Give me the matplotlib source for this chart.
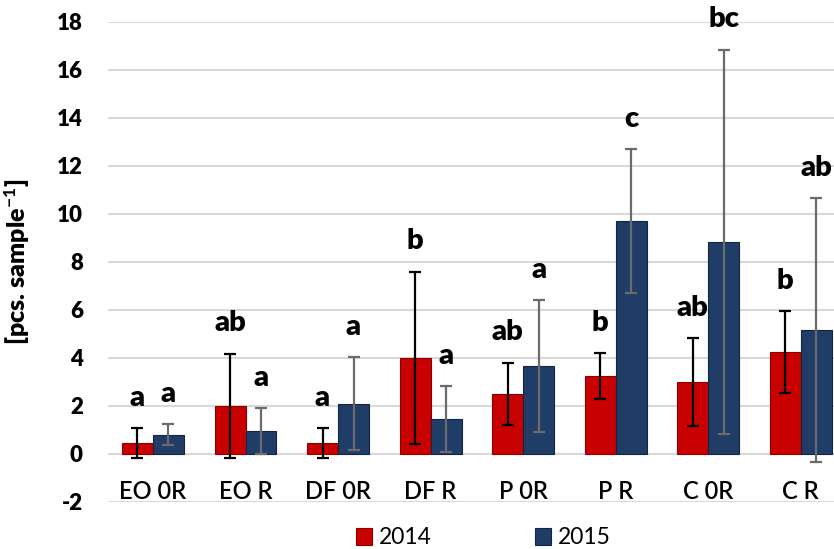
import matplotlib
matplotlib.use('Agg')
import matplotlib.pyplot as plt
import numpy as np

plt.rcParams['font.family'] = ['Lato', 'DejaVu Sans']
plt.rcParams['mathtext.fontset'] = 'custom'
plt.rcParams['mathtext.rm'] = 'Lato:bold'
plt.rcParams['mathtext.default'] = 'rm'
plt.rcParams['axes.unicode_minus'] = False

categories = ['EO 0R', 'EO R', 'DF 0R', 'DF R', 'P 0R', 'P R', 'C 0R', 'C R']
years = ['2014', '2015']

mean_2014 = [0.45, 2.0, 0.45, 4.0, 2.5, 3.25, 3.0, 4.25]
sd_2014 = [0.62, 2.17, 0.62, 3.6, 1.3, 0.95, 1.83, 1.7]
mean_2015 = [0.8, 0.95, 2.1, 1.45, 3.65, 9.7, 8.85, 5.15]
sd_2015 = [0.43, 0.95, 1.93, 1.38, 2.75, 3.0, 8.0, 5.5]

letters_2014 = ['a', 'ab', 'a', 'b', 'ab', 'b', 'ab', 'b']
letters_2015 = ['a', 'a', 'a', 'a', 'a', 'c', 'bc', 'ab']

red = '#c80000'
blue = '#1f3d66'

fig = plt.figure(figsize=(8.34, 5.49), dpi=100)
ax = fig.add_axes([108 / 834, 47 / 549, 726 / 834, 480 / 549])

x = np.arange(len(categories))
w = 0.335

ax.bar(x - w / 2, mean_2014, w, color=red, edgecolor='#8a0000', linewidth=0.8,
       label=years[0], zorder=3)
ax.bar(x + w / 2, mean_2015, w, color=blue, edgecolor='#13263f', linewidth=0.8,
       label=years[1], zorder=3)

ax.errorbar(x - w / 2, mean_2014, yerr=sd_2014, fmt='none', ecolor='black',
            elinewidth=1.6, capsize=4.5, capthick=1.6, zorder=4)
ax.errorbar(x + w / 2, mean_2015, yerr=sd_2015, fmt='none', ecolor='#6b6b6b',
            elinewidth=1.6, capsize=4.5, capthick=1.6, zorder=4)

for xi, m, s, t in zip(x - w / 2, mean_2014, sd_2014, letters_2014):
    ax.annotate(t, (xi, m + s), xytext=(0, 22), textcoords='offset points',
                ha='center', va='center', fontsize=21, fontweight='heavy', zorder=5)
for xi, m, s, t in zip(x + w / 2, mean_2015, sd_2015, letters_2015):
    ax.annotate(t, (xi, m + s), xytext=(0, 22), textcoords='offset points',
                ha='center', va='center', fontsize=21, fontweight='heavy', zorder=5)

ax.set_ylim(-2, 18)
ax.set_xlim(-0.486, 7.36)
ax.set_yticks(np.arange(-2, 19, 2))
ax.grid(axis='y', color='#d9d9d9', linewidth=1.5, zorder=0)
ax.set_axisbelow(True)
for sp in ax.spines.values():
    sp.set_visible(False)

ax.set_xticks(x)
ax.set_xticklabels(categories, fontsize=17, fontweight='semibold')
ax.tick_params(axis='x', length=0, pad=-16)
ax.tick_params(axis='y', length=0, pad=18, labelsize=16)
for lab in ax.get_yticklabels():
    lab.set_fontweight('heavy')

ax.set_ylabel(r'[pcs. sample$^{-1}$]', fontsize=18, fontweight='heavy')
ax.yaxis.set_label_coords(-(108 - 32) / 726, 0.5)

fig.legend(loc='center', bbox_to_anchor=(483 / 834, 1 - 538 / 549), ncol=2,
           frameon=False, fontsize=16.5, handlelength=0.7, handleheight=0.7,
           handletextpad=0.3, columnspacing=4.5)

fig.savefig('out.png', dpi=100)
